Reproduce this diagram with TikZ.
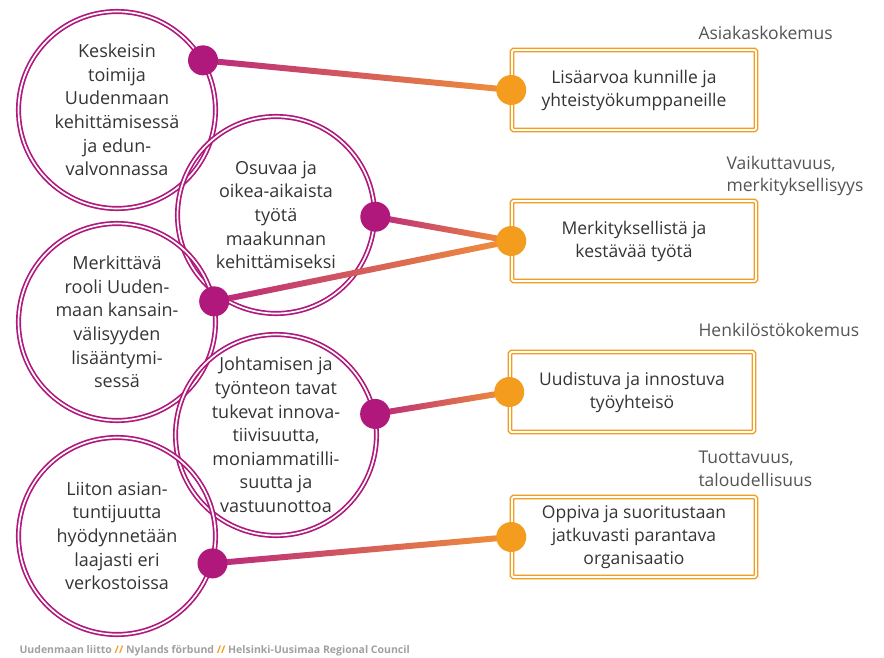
\documentclass[tikz,border=0pt]{standalone}
\usepackage{fontspec}
\setmainfont{Open Sans}
\usetikzlibrary{calc}
\definecolor{ringmag}{RGB}{176,24,124}
\definecolor{goalorg}{RGB}{243,156,30}
\definecolor{linkmag}{RGB}{184,40,126}
\definecolor{linkorg}{RGB}{241,146,56}
\definecolor{txtgray}{RGB}{52,52,52}
\definecolor{labgray}{RGB}{84,84,84}
\definecolor{footgray}{RGB}{160,160,160}
\begin{document}
\begin{tikzpicture}[x=1pt,y=-1pt,
    ring/.style={circle,draw=ringmag,double=white,double distance=1.7pt,line width=1.7pt,
        minimum size=197pt,inner sep=0pt,align=center,text=txtgray,
        font=\fontsize{18}{23.6}\selectfont},
    goal/.style={rectangle,draw=goalorg,double=white,double distance=1.8pt,line width=1.5pt,
        rounded corners=1.5pt,minimum width=244pt,minimum height=80pt,align=center,
        text=txtgray,font=\fontsize{17.5}{23}\selectfont},
    mdot/.style={circle,fill=ringmag,minimum size=30pt,inner sep=0pt},
    odot/.style={circle,fill=goalorg,minimum size=30pt,inner sep=0pt},
    cat/.style={anchor=west,align=left,text=labgray,font=\fontsize{17.5}{22.5}\selectfont},
    link/.style={left color=linkmag,right color=linkorg}]
\useasboundingbox (0,0) rectangle (884,657);
\node [ring] (keskeisin) at (117,110) {Keskeisin\\toimija\\Uudenmaan\\kehittämisessä\\ja edun-\\valvonnassa};
\node [ring] (osuvaa) at (276,215) {Osuvaa ja\\oikea-aikaista\\työtä\\maakunnan\\kehittämiseksi};
\node [ring] (merkittava) at (117,322) {Merkittävä\\rooli Uuden-\\maan kansain-\\välisyyden\\lisääntymi-\\sessä};
\node [ring] (johtamisen) at (276,435) {Johtamisen ja\\työnteon tavat\\tukevat innova-\\tiivisuutta,\\moniammatilli-\\suutta ja\\vastuunottoa};
\node [ring] (liiton) at (117,536) {Liiton asian-\\tuntijuutta\\hyödynnetään\\laajasti eri\\verkostoissa};
\node [goal] (lisaarvo) at (634,90) {Lisäarvoa kunnille ja\\yhteistyökumppaneille};
\node [goal] (kestava) at (634,241) {Merkityksellistä ja\\kestävää työtä};
\node [goal] (uudistuva) at (632,392) {Uudistuva ja innostuva\\työyhteisö};
\node [goal] (oppiva) at (634,537) {Oppiva ja suoritustaan\\jatkuvasti parantava\\organisaatio};
\node [cat] (asiakas) at (695,33) {Asiakaskokemus};
\node [cat] (vaikutus) at (723,176) {Vaikuttavuus,\\merkityksellisyys};
\node [cat] (henkilo) at (695,330) {Henkilöstökokemus};
\node [cat] (tuotto) at (695,469) {Tuottavuus,\\taloudellisuus};
\coordinate (keskdot) at (keskeisin.30);
\coordinate (osudot) at (osuvaa.-1);
\coordinate (merkdot) at (merkittava.12);
\coordinate (johtdot) at (johtamisen.12);
\coordinate (liitdot) at (liiton.-16);
\foreach \a/\b in {keskdot/lisaarvo.west,osudot/kestava.west,merkdot/kestava.west,
                   johtdot/uudistuva.west,liitdot/oppiva.west}
    \shade [link] ($(\a)!3pt!90:(\b)$) -- ($(\b)!3pt!-90:(\a)$)
        -- ($(\b)!3pt!90:(\a)$) -- ($(\a)!3pt!-90:(\b)$) -- cycle;
\foreach \d in {keskdot,osudot,merkdot,johtdot,liitdot}
    \node [mdot] at (\d) {};
\foreach \g in {lisaarvo,kestava,uudistuva,oppiva}
    \node [odot] at (\g.west) {};
\node [anchor=west,text=footgray,font=\fontsize{10.5}{12}\selectfont\bfseries] (footer) at (16,651)
    {Uudenmaan liitto \textcolor{goalorg}{//} Nylands förbund \textcolor{goalorg}{//} Helsinki-Uusimaa Regional Council};
\end{tikzpicture}
\end{document}
